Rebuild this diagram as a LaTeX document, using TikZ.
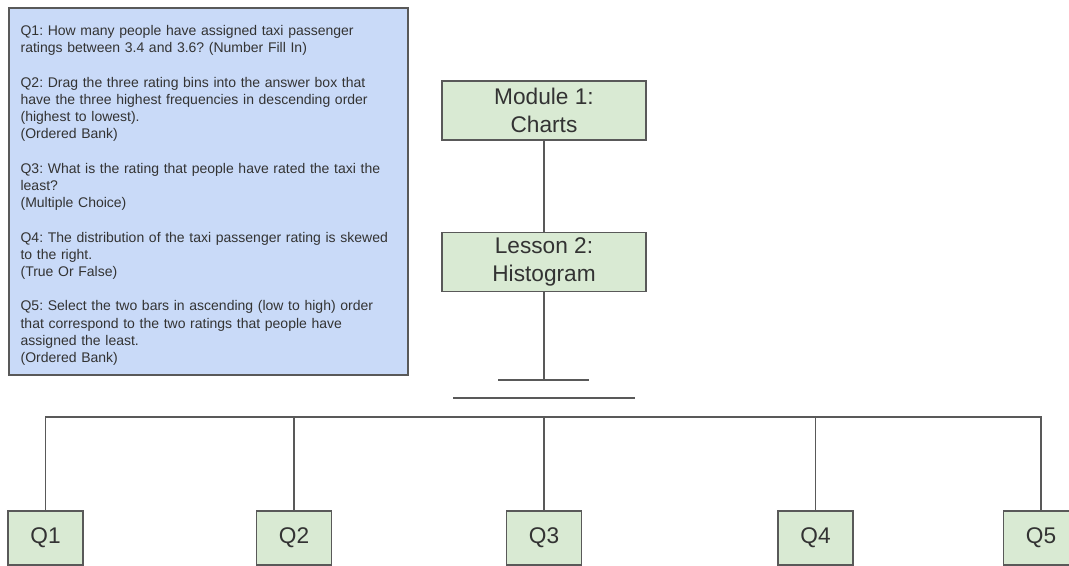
\documentclass[tikz,border=0pt]{standalone}
\usepackage{fontspec}
\setmainfont{Liberation Sans}
\usetikzlibrary{positioning}
\definecolor{boxgreen}{HTML}{D9EAD3}
\definecolor{boxblue}{HTML}{C9DAF8}
\definecolor{edgegray}{HTML}{595959}
\tikzstyle{notebox}=[rectangle, draw=edgegray, fill=boxblue, line width=1pt,
					minimum width=299.25pt, minimum height=275.25pt, inner sep=0pt]
\tikzstyle{notetext}=[text width=290pt, align=left, inner sep=0pt,
					font=\fontsize{10.5}{12.9}\selectfont\frenchspacing, text=black!80]

\begin{document}
\begin{tikzpicture}[x=0.75pt, y=-0.75pt,
 greennode/.style={rectangle, draw=edgegray, fill=boxgreen, line width=1pt, minimum width=153pt, minimum height=44.25pt, align=center, font=\fontsize{17}{20.5}\selectfont, text=black!80, inner sep=0pt},
 qnode/.style={rectangle, draw=edgegray, fill=boxgreen, line width=1pt, minimum width=56.25pt, minimum height=40.5pt, font=\fontsize{17}{20.5}\selectfont, text=black!80, inner sep=0pt},
 link/.style={draw=edgegray, line width=0.9pt},
 ]
 \useasboundingbox (0,0) rectangle (1069,566);
 %Nodes
 \node[notebox]   (qbox)   at (208.5,191.5) {};
 \node[notetext]  (qtext)  [below right=13.5pt and 9pt of qbox.north west]
  {Q1: How many people have assigned taxi passenger\\
   ratings between 3.4 and 3.6? (Number Fill In)\\[12.9pt]
   Q2: Drag the three rating bins into the answer box that\\
   have the three highest frequencies in descending order\\
   (highest to lowest).\\
   (Ordered Bank)\\[12.9pt]
   Q3: What is the rating that people have rated the taxi the\\
   least?\\
   (Multiple Choice)\\[12.9pt]
   Q4: The distribution of the taxi passenger rating is skewed\\
   to the right.\\
   (True Or False)\\[12.9pt]
   Q5: Select the two bars in ascending (low to high) order\\
   that correspond to the two ratings that people have\\
   assigned the least.\\
   (Ordered Bank)};
 \node[greennode] (module) at (544,110.5) {Module 1:\\Charts};
 \node[greennode] (lesson) [below=68.25pt of module] {Lesson 2:\\Histogram};
 \node[qnode] (q1) at (45.5,538) {Q1};
 \node[qnode] (q2) at (294,538) {Q2};
 \node[qnode] (q3) at (544,538) {Q3};
 \node[qnode] (q4) at (815.5,538) {Q4};
 \node[qnode] (q5) at (1041,538) {Q5};
 \coordinate (barl) at (498,380);
 \coordinate (barr) at (589,380);
 \coordinate (gapl) at (453,398);
 \coordinate (gapr) at (635,398);
 \coordinate (bus)  at (0,417);

 %Lines
 \draw[link] (module.south) -- (lesson.north);
 \draw[link] (lesson.south) -- (lesson.south |- barl);
 \draw[link] (barl) -- (barr);
 \draw[link] (gapl) -- (gapr);
 \draw[link] (q1.north) |- (q1.north |- bus) -| (q5.north);
 \foreach \q in {q2,q3,q4}
  \draw[link] (\q.north |- bus) -- (\q.north);
\end{tikzpicture}
\end{document}
